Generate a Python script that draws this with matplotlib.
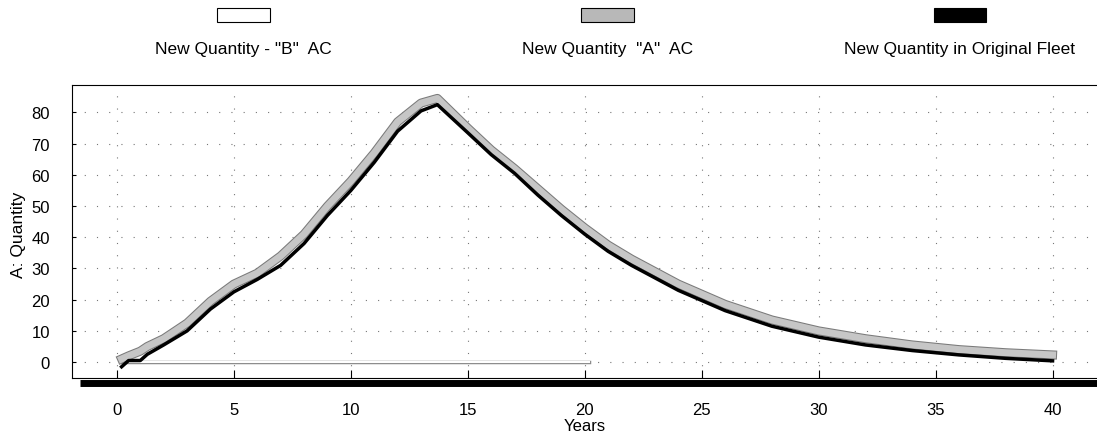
import matplotlib.pyplot as plt
from matplotlib.patches import Rectangle
import matplotlib.patheffects as pe

plt.rcParams['font.family'] = ['Liberation Sans', 'DejaVu Sans']

# values
years = [0.2, 0.5, 1.0, 1.3, 2, 3, 4, 5, 6, 7, 8, 9, 10, 11, 12, 13, 13.7,
         15, 16, 17, 18, 19, 20, 21, 22, 24, 26, 28, 30, 32, 34, 36, 38, 40]
original_fleet = [-1.5, 0.5, 0.5, 2.5, 5.5, 10, 17, 22.5, 26.5, 31, 38, 47, 55, 64,
                  74, 80.5, 82.5, 73.5, 66.5, 60.5, 53.5, 47, 41, 35.5, 31, 23,
                  16.5, 11.5, 8, 5.5, 3.7, 2.3, 1.2, 0.4]
a_ac = [1, 2, 3.5, 5, 7.5, 12.5, 19.5, 25, 28.5, 34, 41, 50, 58, 67, 77, 83, 84.5,
        75, 68, 62, 55.5, 49, 43, 37.5, 33, 25, 18.5, 13.5, 10, 7.5, 5.5, 4, 3, 2.3]
b_years = [0.2, 20.2]
b_ac = [0, 0]

x_ticks = [0, 5, 10, 15, 20, 25, 30, 35, 40]
y_ticks = [0, 10, 20, 30, 40, 50, 60, 70, 80]

W, H = 1097, 435
fig = plt.figure(figsize=(W / 100, H / 100), dpi=100)
ax = fig.add_axes([72 / W, 1 - 379 / H, 1 - 72 / W, 293 / H])

ax.plot(b_years, b_ac, color='white', lw=1.5, zorder=3,
        path_effects=[pe.Stroke(linewidth=2.5, foreground='#888888'), pe.Normal()])
ax.plot(years, a_ac, color='#c6c6c6', lw=5, zorder=4,
        path_effects=[pe.Stroke(linewidth=6.5, foreground='#7a7a7a'), pe.Normal()])
ax.plot(years, original_fleet, color='black', lw=2.5, zorder=5)

ax.set_xlim(-1.92, 41.9)
ax.set_ylim(-5.1, 88.8)
ax.set_xticks(x_ticks)
ax.set_yticks(y_ticks)
ax.tick_params(axis='x', direction='in', length=6, pad=17.5, labelsize=12)
ax.tick_params(axis='y', direction='in', length=3, pad=16, labelsize=12)
ax.grid(True, color='#777777', lw=0.8, linestyle=(0, (1, 10)))

ax.spines['right'].set_visible(False)
for side in ['top', 'left', 'bottom']:
    ax.spines[side].set_linewidth(0.8)

# thick black bar under the plot area
ax.plot([8 / 1025, 1], [-4.5 / 293, -4.5 / 293], transform=ax.transAxes,
        color='black', lw=5, clip_on=False, solid_capstyle='butt')

fig.text(585 / W, 1 - 427 / H, 'Years', ha='center', va='center', fontsize=12)
fig.text(19 / W, 1 - 235 / H, 'A: Quantity', ha='center', va='center',
         rotation=90, fontsize=12.5)

# legend drawn by hand: swatches above, labels below
legend_items = [("New Quantity - \"B\"  AC", 'white', 0.222),
                ("New Quantity  \"A\"  AC", '#b8b8b8', 0.554),
                ("New Quantity in Original Fleet", 'black', 0.875)]
for label, color, xc in legend_items:
    fig.add_artist(Rectangle((xc - 0.024, 0.947), 0.048, 0.032, transform=fig.transFigure,
                             facecolor=color, edgecolor='black', lw=0.8))
    fig.text(xc, 0.887, label, ha='center', va='center', fontsize=12.5)

fig.savefig('out.png', dpi=100)
